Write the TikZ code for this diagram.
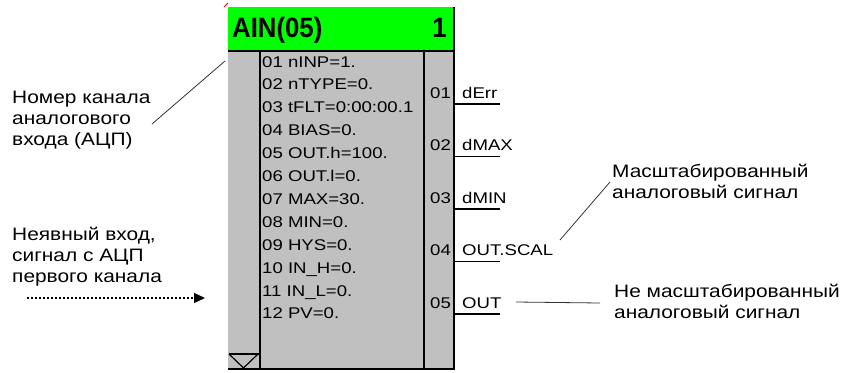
\documentclass[tikz,border=0pt]{standalone}
\usepackage{fontspec}
\setmainfont{Liberation Sans}
\newfontfamily\blkfont{Liberation Sans}[FakeStretch=1.2]
\newfontfamily\lblfont{Liberation Sans}[FakeStretch=1.16]
\newfontfamily\hdrfont{Liberation Sans}[FakeStretch=0.92]
\usetikzlibrary{positioning,calc,arrows.meta}
\definecolor{BlkGray}{RGB}{192,192,192}
\definecolor{BlkGreen}{RGB}{0,255,0}
\tikzset{
    paramtext/.style={anchor=base west, inner sep=0pt, font=\blkfont\fontsize{15.5}{18}\selectfont},
    lbltext/.style={anchor=base west, inner sep=0pt, align=left, font=\lblfont\fontsize{18}{21}\selectfont},
    blkline/.style={draw=black, line width=2pt},
    outline/.style={draw=black, line width=1.6pt},
    noteline/.style={draw=black!80, line width=0.8pt}
}

\begin{document}
\begin{tikzpicture}[
        x=1pt, y=-1pt,
        % --- STYLE ---
        hdrtext/.style={inner sep=0pt, font=\hdrfont\bfseries\fontsize{28}{30}\selectfont},
        dotarrow/.style={draw=black, line width=1.3pt, dash pattern=on 2pt off 2pt,
            -{Triangle[length=11pt,width=10pt]}}
    ]
        \useasboundingbox (0,0) rectangle (845,372);

        % --- KHOI AIN ---
        \fill[BlkGray] (228,51) rectangle (453,369);
        \fill[BlkGreen] (228,7) rectangle (453,51);
        \draw[red, line width=1pt] (224,7) -- (228,3);

        \draw[blkline] (228,51) -- (454.5,51);
        \draw[blkline] (453.5,7) -- (453.5,369.5);
        \draw[blkline] (259.5,51) -- (259.5,369);
        \draw[blkline] (424,51) -- (424,369);
        \draw[blkline] (228,368.5) -- (454.5,368.5);
        % tam giac o goc duoi
        \draw[line width=1.5pt] (229,354) -- (259,354);
        \draw[line width=1.2pt] (229,354) -- (243.5,368) -- (258,354);

        \node[hdrtext, anchor=base west] (ain) at (232,37) {AIN(05)};
        \node[hdrtext, anchor=base east] (num) at (447,37) {1};

        % --- THAM SO ---
        \foreach \txt [count=\i] in {01 nINP=1., 02 nTYPE=0., 03 tFLT=0:00:00.1,
                04 BIAS=0., 05 OUT.h=100., 06 OUT.l=0., 07 MAX=30., 08 MIN=0.,
                09 HYS=0., 10 IN\_H=0., 11 IN\_L=0., 12 PV=0.}
            \node[paramtext] (p\i) at (262,{67+22.9*(\i-1)}) {\txt};

        % --- LOI RA ---
        \foreach \num/\sig [count=\i] in {01/dErr, 02/dMAX, 03/dMIN, 04/OUT.SCAL, 05/OUT} {
            \node[paramtext] (n\i) at (430,{98+52.5*(\i-1)}) {\num};
            \node[paramtext] (o\i) at (462,{98+52.5*(\i-1)}) {\sig};
            \coordinate (os\i) at (453,{104+52.5*(\i-1)});
            \coordinate (oe\i) at (500,{104+52.5*(\i-1)});
            \draw[outline] (os\i) -- (oe\i);
        }

        % --- CHU THICH ---
        % (base = dong cuoi cua nut nhieu dong)
        \node[lbltext] (chan) at (12,145) {Номер канала\\аналогового\\входа (АЦП)};
        \coordinate (chanend) at (152,124);
        \coordinate (chantip) at (225,61);
        \draw[noteline] (chanend) -- (chantip);

        \node[lbltext] (impl) at (12,282) {Неявный вход,\\сигнал с АЦП\\первого канала};
        \coordinate (implstart) at (27,298);
        \coordinate (implend) at (205,298);
        \draw[dotarrow] (implstart) -- (implend);

        \node[lbltext] (scal) at (612,198) {Масштабированный\\аналоговый сигнал};
        \coordinate (scalstart) at (560,240);
        \coordinate (scalend) at (610,182);
        \draw[noteline] (scalstart) -- (scalend);

        \node[lbltext] (raw) at (614,318) {Не масштабированный\\аналоговый сигнал};
        \coordinate (rawstart) at (516,302);
        \coordinate (rawend) at (600,303);
        \draw[noteline] (rawstart) -- (rawend);

    \end{tikzpicture}
\end{document}
